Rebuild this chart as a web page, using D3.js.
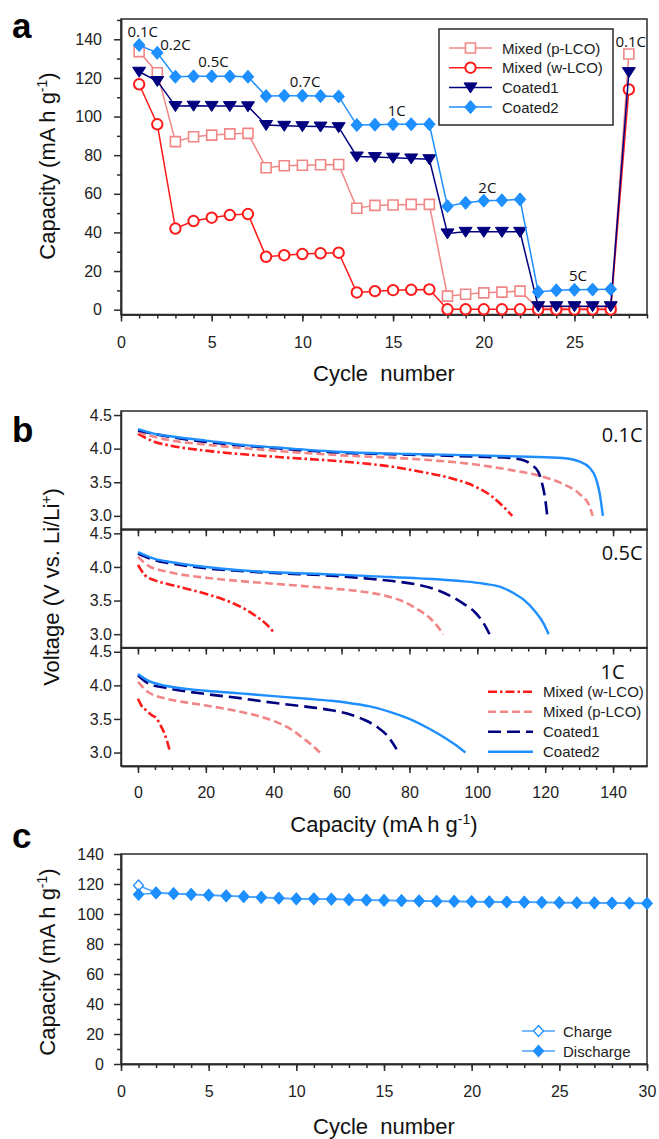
<!DOCTYPE html>
<meta charset="utf-8">
<style>
body { margin: 0; background: #fff; }
svg { font-family: Arial, "Liberation Sans", sans-serif; }
.axis path, .axis line { fill: none; stroke: #2b2b2b; stroke-width: 1.5px; }
.axis text { font-size: 16px; fill: #222; font-family: Arial, "Liberation Sans", sans-serif; }
.frame { fill: none; stroke: #2b2b2b; stroke-width: 1.5px; }
.title { font-size: 22px; fill: #111; }
.panel { font-size: 35px; font-weight: bold; fill: #000; }
.rate { font-family: "Open Sans", sans-serif; fill: #111; }
.leg { font-size: 15px; fill: #222; }
</style>
<body>
<script src="https://cdn.jsdelivr.net/npm/d3@7"></script>
<script>

// ---- panel a : rate capability ----
var cycleA  = [1,2,3,4,5,6,7,8,9,10,11,12,13,14,15,16,17,18,19,20,21,22,23,24,25,26,27,28];
var pLCO    = [133.6,122.7,87,89.5,90.4,91,91.3,73.5,74.5,74.8,75,75.2,52.5,54,54.2,54.5,54.5,7,8,8.7,9.1,9.6,0.8,0.8,0.8,0.8,0.8,132.4];
var wLCO    = [116.7,96,42,45.9,47.6,49,49.5,27.4,28.2,28.8,29.2,29.5,8.9,9.6,10.1,10.3,10.5,0.2,0.2,0.2,0.2,0.2,0.1,0.1,0.1,0.1,0.1,114];
var coated1 = [123.2,118.4,105.4,105.6,105.5,105.4,105.3,95.6,95.2,95,94.8,94.5,79.3,79,78.7,78.3,77.9,39.5,40.3,40.3,40.3,40.3,1.8,1.8,1.8,1.8,1.8,123];
var coated2 = [137,133,120.6,120.8,120.8,120.8,120.6,110.6,110.8,110.8,110.6,110.4,95.6,95.8,96,96,96,53.6,55.3,56.4,56.6,57.1,9.2,10,10.3,10.4,10.6];
var rateNamesA = ["0.1C","0.2C","0.5C","0.7C","1C","2C","5C","0.1C"];
var rateCycleA = [1.2,3.0,5.1,10.15,15.2,20.2,25.2,28.1];
var rateCapA   = [141.2,134.5,125.8,115.2,100.3,60.5,14.7,136.2];

// ---- panel b : discharge curves, [capacity, voltage] ----
var wLCO_01    = [[0,4.22],[5,4.1],[10,4.04],[20,3.97],[40,3.88],[60,3.81],[75,3.73],[85,3.64],[93,3.55],[100,3.42],[104,3.3],[107,3.17],[110.3,3.0]];
var pLCO_01    = [[0,4.24],[10,4.12],[20,4.06],[40,3.97],[60,3.9],[80,3.85],[100,3.76],[110,3.68],[118,3.6],[125,3.48],[130,3.33],[133,3.15],[134,3.0]];
var coated1_01 = [[0,4.27],[10,4.17],[20,4.1],[40,4.01],[60,3.94],[80,3.91],[100,3.88],[110,3.86],[114,3.82],[116,3.76],[118,3.65],[119,3.5],[120,3.25],[120.6,3.0]];
var coated2_01 = [[0,4.29],[5,4.22],[10,4.18],[20,4.12],[30,4.06],[40,4.02],[60,3.95],[80,3.92],[100,3.9],[115,3.88],[125,3.86],[130,3.81],[133,3.72],[135,3.55],[136,3.35],[137,3.0]];

var wLCO_05    = [[0,4.03],[2,3.88],[5,3.8],[8.5,3.75],[14,3.68],[20,3.6],[25,3.52],[28,3.46],[32,3.36],[35,3.26],[38,3.14],[40,3.03]];
var pLCO_05    = [[0,4.15],[3,4.02],[8.5,3.93],[20,3.84],[30,3.79],[40,3.75],[57,3.68],[65,3.64],[73,3.57],[78,3.49],[82,3.38],[86,3.24],[88.5,3.1],[90,3.0]];
var coated1_05 = [[0,4.2],[5,4.1],[10,4.05],[20,3.98],[30,3.94],[40,3.91],[57,3.87],[67,3.83],[75,3.79],[82,3.74],[88,3.66],[92,3.57],[96,3.45],[99,3.34],[101.5,3.19],[103.6,3.0]];
var coated2_05 = [[0,4.22],[5,4.12],[10,4.07],[20,4.0],[30,3.95],[40,3.92],[57,3.89],[70,3.86],[83,3.83],[95,3.79],[102,3.75],[107,3.7],[111,3.6],[114,3.5],[117,3.34],[119.5,3.16],[121,3.0]];

var wLCO_1     = [[0,3.8],[1,3.7],[2.6,3.62],[4,3.56],[5.6,3.5],[6.5,3.42],[7.5,3.32],[8.5,3.18],[9.5,3.0]];
var pLCO_1     = [[0,4.05],[3,3.9],[8.5,3.8],[15,3.74],[20,3.7],[28,3.63],[35,3.55],[40,3.47],[45,3.35],[48,3.24],[51,3.12],[53.6,3.0]];
var coated1_1  = [[0,4.15],[3,4.03],[8.5,3.96],[20,3.87],[30,3.81],[40,3.74],[50,3.68],[57,3.63],[63,3.56],[67,3.48],[70.5,3.38],[73.5,3.25],[76.2,3.05]];
var coated2_1  = [[0,4.17],[3,4.07],[8.5,3.99],[20,3.92],[30,3.88],[40,3.84],[50,3.8],[57,3.77],[63,3.73],[68,3.69],[74,3.61],[80,3.5],[86,3.35],[91,3.2],[94.5,3.08],[96.5,3.0]];

var rateNamesB = ["0.1C","0.5C","1C"];
var seriesNamesB = ["Mixed (w-LCO)","Mixed (p-LCO)","Coated1","Coated2"];

// ---- panel c : cycling at fixed rate ----
var cycleC    = [1,2,3,4,5,6,7,8,9,10,11,12,13,14,15,16,17,18,19,20,21,22,23,24,25,26,27,28,29,30];
var charge    = [119,114.2,113.7,113.2,112.7,112.2,111.7,111.2,110.7,110.2,110.2,110,109.7,109.4,109.2,109,108.8,108.6,108.5,108.4,108.2,108.1,108,107.8,107.7,107.6,107.5,107.4,107.3,107.2];
var discharge = [113,114,113.5,113,112.5,112,111.5,111,110.5,110,110,109.8,109.5,109.2,109,108.8,108.6,108.4,108.3,108.2,108,107.9,107.8,107.6,107.5,107.4,107.3,107.2,107.1,107];

var cRed = "#ff1a1a", cPink = "#f28686", cNavy = "#00007f", cBlue = "#1e8fff";

var svg = d3.select("body").append("svg")
    .attr("width", 659)
    .attr("height", 1139);

// marker shapes
function shapePath(type) {
  if (type == "square") return "M-5,-5H5V5H-5Z";
  if (type == "circle") return "M5.2,0A5.2,5.2 0 1,1 -5.2,0A5.2,5.2 0 1,1 5.2,0Z";
  if (type == "tri") return "M-6.5,-4.5H6.5L0,5.5Z";
  if (type == "diamond") return "M0,-6.5L5.8,0L0,6.5L-5.8,0Z";
  if (type == "diamondS") return "M0,-5.5L5,0L0,5.5L-5,0Z";
}

function xAxis(g, x, y0, majors, minors, labels, pad) {
  g.append("g").attr("class", "axis")
      .attr("transform", "translate(0," + y0 + ")")
      .call(d3.axisBottom(x).tickValues(minors).tickSize(4).tickSizeOuter(0).tickFormat(""));
  g.append("g").attr("class", "axis")
      .attr("transform", "translate(0," + y0 + ")")
      .call(d3.axisBottom(x).tickValues(majors).tickSize(7).tickSizeOuter(0).tickPadding(pad)
        .tickFormat(labels ? d3.format("d") : ""));
}

function yAxis(g, y, x0, majors, minors, fmt, pad) {
  if (minors)
    g.append("g").attr("class", "axis")
        .attr("transform", "translate(" + x0 + ",0)")
        .call(d3.axisLeft(y).tickValues(minors).tickSize(4).tickSizeOuter(0).tickFormat(""));
  g.append("g").attr("class", "axis")
      .attr("transform", "translate(" + x0 + ",0)")
      .call(d3.axisLeft(y).tickValues(majors).tickSize(7).tickSizeOuter(0).tickPadding(pad).tickFormat(fmt));
}

function unitLabel(sel, pre) {
  sel.append("tspan").text(pre + "(mA h g");
  sel.append("tspan").attr("dy", -8).style("font-size", "14px").text("-1");
  sel.append("tspan").attr("dy", 8).text(")");
}

// ================= panel a =================
var xA = d3.scaleLinear().domain([0, 29]).range([121, 647]);
var yA = d3.scaleLinear().domain([-2.5, 150.5]).range([314.5, 19]);
var ga = svg.append("g");

ga.append("rect").attr("class", "frame")
    .attr("x", xA.range()[0]).attr("y", yA.range()[1])
    .attr("width", xA.range()[1] - xA.range()[0]).attr("height", yA.range()[0] - yA.range()[1]);

xAxis(ga, xA, yA.range()[0], [0,5,10,15,20,25], d3.range(0, 30, 1), true, 15);
yAxis(ga, yA, xA.range()[0], [0,20,40,60,80,100,120,140], [10,30,50,70,90,110,130,150], d3.format("d"), 12);

var seriesA = [
  {name: "Mixed (p-LCO)", vals: pLCO,    color: cPink, shape: "square",  fill: "#fff", sw: 1.6},
  {name: "Mixed (w-LCO)", vals: wLCO,    color: cRed,  shape: "circle",  fill: "#fff", sw: 2},
  {name: "Coated1",       vals: coated1, color: cNavy, shape: "tri",     fill: cNavy,  sw: 1},
  {name: "Coated2",       vals: coated2, color: cBlue, shape: "diamond", fill: cBlue,  sw: 1}
];

var lineA = d3.line()
    .x(function(d) { return xA(d.c); })
    .y(function(d) { return yA(d.v); });

seriesA.forEach(function(s) {
  var pts = s.vals.map(function(v, i) { return {c: cycleA[i], v: v}; });
  ga.append("path").datum(pts)
      .attr("d", lineA)
      .attr("fill", "none")
      .attr("stroke", s.color)
      .attr("stroke-width", 1.5);
  ga.selectAll(null).data(pts).enter().append("path")
      .attr("d", shapePath(s.shape))
      .attr("transform", function(d) { return "translate(" + xA(d.c) + "," + yA(d.v) + ")"; })
      .attr("fill", s.fill)
      .attr("stroke", s.color)
      .attr("stroke-width", s.sw);
});

ga.selectAll(".rate").data(rateNamesA).enter().append("text")
    .attr("class", "rate")
    .attr("x", function(d, i) { return xA(rateCycleA[i]); })
    .attr("y", function(d, i) { return yA(rateCapA[i]); })
    .attr("text-anchor", "middle")
    .style("font-size", "15px")
    .text(function(d) { return d; });

// legend a
var legA = ga.append("g");
legA.append("rect").attr("x", 439).attr("y", 29).attr("width", 174).attr("height", 96)
    .attr("fill", "#fff").attr("stroke", "#2b2b2b").attr("stroke-width", 1.5);
seriesA.forEach(function(s, i) {
  var yy = 48 + i * 19.7;
  legA.append("line").attr("x1", 449).attr("x2", 492).attr("y1", yy).attr("y2", yy)
      .attr("stroke", s.color).attr("stroke-width", 1.5);
  legA.append("path").attr("d", shapePath(s.shape))
      .attr("transform", "translate(470.5," + yy + ")")
      .attr("fill", s.fill).attr("stroke", s.color).attr("stroke-width", s.sw);
  legA.append("text").attr("class", "leg").attr("x", 502).attr("y", yy + 5.5).text(s.name);
});

ga.append("text").attr("class", "title")
    .attr("transform", "translate(55,166) rotate(-90)")
    .attr("text-anchor", "middle")
    .call(unitLabel, "Capacity ");
ga.append("text").attr("class", "title")
    .attr("x", 384).attr("y", 381)
    .attr("text-anchor", "middle")
    .style("white-space", "pre")
    .text("Cycle  number");
ga.append("text").attr("class", "panel").attr("x", 12).attr("y", 38).text("a");

// ================= panel b =================
var xB = d3.scaleLinear().domain([-5, 150]).range([121, 647]);
var subTops = [411, 529.3, 647.7];
var subH = 118.3;
var gb = svg.append("g");

var curvesB = [
  [wLCO_01, pLCO_01, coated1_01, coated2_01],
  [wLCO_05, pLCO_05, coated1_05, coated2_05],
  [wLCO_1,  pLCO_1,  coated1_1,  coated2_1]
];
var styleB = [
  {color: cRed,  dash: "9,3,2.5,3", w: 2.6},
  {color: cPink, dash: "8,4",       w: 2.6},
  {color: cNavy, dash: "13,6",      w: 2.6},
  {color: cBlue, dash: null,        w: 2.4}
];

var lineB = d3.line().curve(d3.curveMonotoneX);

subTops.forEach(function(top, k) {
  var yB = d3.scaleLinear().domain([2.8, 4.56]).range([top + subH, top]);
  gb.append("rect").attr("class", "frame")
      .attr("x", 121).attr("y", top).attr("width", 526).attr("height", subH);
  xAxis(gb, xB, top + subH, [0,20,40,60,80,100,120,140], d3.range(0, 150, 5), k == 2, 14);
  yAxis(gb, yB, 121, [3.0,3.5,4.0,4.5], null, d3.format(".1f"), 2);

  lineB.x(function(d) { return xB(d[0]); }).y(function(d) { return yB(d[1]); });
  curvesB[k].forEach(function(c, j) {
    gb.append("path").datum(c)
        .attr("d", lineB)
        .attr("fill", "none")
        .attr("stroke", styleB[j].color)
        .attr("stroke-width", styleB[j].w)
        .attr("stroke-dasharray", styleB[j].dash);
  });

  gb.append("text").attr("class", "rate")
      .attr("x", xB(k == 2 ? 143.4 : 148.7))
      .attr("y", yB(4.1))
      .attr("text-anchor", "end")
      .style("font-size", "20px")
      .text(rateNamesB[k]);
});

// legend b
seriesNamesB.forEach(function(n, i) {
  var yy = 691.7 + i * 20;
  gb.append("line").attr("x1", 488).attr("x2", 533).attr("y1", yy).attr("y2", yy)
      .attr("stroke", styleB[i].color).attr("stroke-width", styleB[i].w)
      .attr("stroke-dasharray", styleB[i].dash);
  gb.append("text").attr("class", "leg").attr("x", 543).attr("y", yy + 5.5).text(n);
});

var vt = gb.append("text").attr("class", "title")
    .attr("transform", "translate(59,587) rotate(-90)")
    .attr("text-anchor", "middle");
vt.append("tspan").text("Voltage (V vs. Li/Li");
vt.append("tspan").attr("dy", -8).style("font-size", "14px").text("+");
vt.append("tspan").attr("dy", 8).text(")");

gb.append("text").attr("class", "title")
    .attr("x", 384).attr("y", 832)
    .attr("text-anchor", "middle")
    .call(unitLabel, "Capacity ");
gb.append("text").attr("class", "panel").attr("x", 12).attr("y", 442).text("b");

// ================= panel c =================
var xC = d3.scaleLinear().domain([0, 30]).range([121, 647]);
var yC = d3.scaleLinear().domain([0, 140]).range([1064, 854]);
var gc = svg.append("g");

gc.append("rect").attr("class", "frame")
    .attr("x", 121).attr("y", 854).attr("width", 526).attr("height", 210);
xAxis(gc, xC, 1064, [0,5,10,15,20,25,30], d3.range(0, 31, 1), true, 15);
yAxis(gc, yC, 121, [0,20,40,60,80,100,120,140], [10,30,50,70,90,110,130], d3.format("d"), 10);

var lineC = d3.line()
    .x(function(d, i) { return xC(cycleC[i]); })
    .y(function(d) { return yC(d); });

var seriesC = [
  {name: "Charge",    vals: charge,    fill: "#fff"},
  {name: "Discharge", vals: discharge, fill: cBlue}
];
seriesC.forEach(function(s) {
  gc.append("path").datum(s.vals)
      .attr("d", lineC)
      .attr("fill", "none")
      .attr("stroke", "#4aa3ff")
      .attr("stroke-width", 1.5);
  gc.selectAll(null).data(s.vals).enter().append("path")
      .attr("d", shapePath("diamondS"))
      .attr("transform", function(d, i) { return "translate(" + xC(cycleC[i]) + "," + yC(d) + ")"; })
      .attr("fill", s.fill)
      .attr("stroke", cBlue)
      .attr("stroke-width", 1.3);
});

seriesC.forEach(function(s, i) {
  var yy = 1031 + i * 20;
  gc.append("line").attr("x1", 522).attr("x2", 555).attr("y1", yy).attr("y2", yy)
      .attr("stroke", "#4aa3ff").attr("stroke-width", 1.5);
  gc.append("path").attr("d", shapePath("diamondS"))
      .attr("transform", "translate(538.5," + yy + ")")
      .attr("fill", s.fill).attr("stroke", cBlue).attr("stroke-width", 1.3);
  gc.append("text").attr("class", "leg").attr("x", 563).attr("y", yy + 5.5).text(s.name);
});

gc.append("text").attr("class", "title")
    .attr("transform", "translate(55,962) rotate(-90)")
    .attr("text-anchor", "middle")
    .call(unitLabel, "Capacity ");
gc.append("text").attr("class", "title")
    .attr("x", 384).attr("y", 1134)
    .attr("text-anchor", "middle")
    .style("white-space", "pre")
    .text("Cycle  number");
gc.append("text").attr("class", "panel").attr("x", 12).attr("y", 848).text("c");

</script>
